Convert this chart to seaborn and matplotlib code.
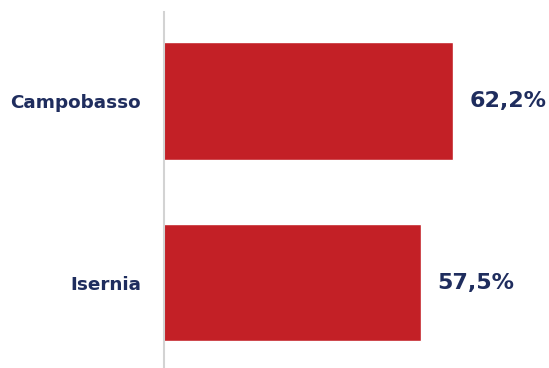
import matplotlib
matplotlib.use("Agg")
import matplotlib.pyplot as plt
import seaborn as sns
import pandas as pd

# data
provinces = ["Campobasso", "Isernia"]
values = [62.2, 57.5]
value_labels = ["62,2%", "57,5%"]

red = "#C32026"
navy = "#1F2D5E"

df = pd.DataFrame({"provincia": provinces, "valore": values})

sns.set_style("white")
plt.rcParams['font.family'] = ['DejaVu Sans']

fig = plt.figure(figsize=(5.49, 3.68), dpi=100)
ax = fig.add_axes([164 / 549, 0.0, 385 / 549, 356.3 / 368])

sns.barplot(data=df, x="valore", y="provincia", color=red, saturation=1,
            width=0.65, orient="h", ax=ax)

ax.set_xlim(19.75, 76.3)
ax.set_ylim(1.471, -0.492)

for i, (v, lab) in enumerate(zip(values, value_labels)):
    ax.annotate(lab, xy=(v, i), xytext=(12, 0), textcoords="offset points",
                ha="left", va="center", fontsize=16, fontweight="bold", color=navy)

for s in ["top", "right", "bottom"]:
    ax.spines[s].set_visible(False)
ax.spines["left"].set_color("#D3D3D3")
ax.spines["left"].set_linewidth(1.5)

ax.set_xlabel("")
ax.set_ylabel("")
ax.set_xticks([])
ax.tick_params(axis="y", length=0, pad=16.5)
for t in ax.get_yticklabels():
    t.set_fontsize(13.2)
    t.set_fontweight("bold")
    t.set_color(navy)

fig.savefig("out.png", dpi=100)
